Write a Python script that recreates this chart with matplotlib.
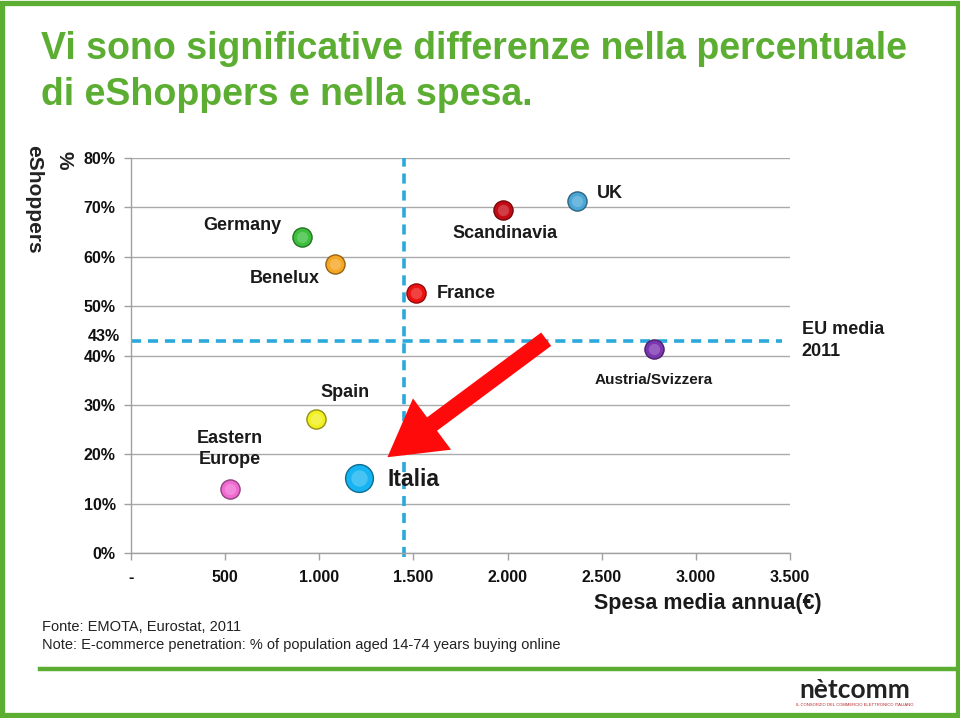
import matplotlib
matplotlib.use("Agg")
import matplotlib.pyplot as plt
from matplotlib.patches import Rectangle
from matplotlib.lines import Line2D
import numpy as np

# ---------------- data ----------------
regions = ["Eastern\nEurope", "Spain", "Italia", "Germany", "Benelux", "France",
           "Scandinavia", "UK", "Austria/Svizzera"]
spend = [527, 984, 1211, 908, 1085, 1514, 1977, 2367, 2777]          # Spesa media annua (EUR)
eshoppers = [12.9, 27.1, 15.2, 63.9, 58.5, 52.6, 69.5, 71.2, 41.3]   # % eShoppers
colors = ["#f06ad2", "#f2f020", "#16b4f2", "#3cbf3c", "#f5a623", "#ee1111",
          "#c40a14", "#4aa6d6", "#7a35b0"]
eu_media = 43          # % EU average 2011
spend_threshold = 1450  # vertical reference line
xticks = [0, 500, 1000, 1500, 2000, 2500, 3000, 3500]
xticklabels = ["-", "500", "1.000", "1.500", "2.000", "2.500", "3.000", "3.500"]
yticks = [0, 10, 20, 30, 40, 50, 60, 70, 80]
yticklabels = [f"{v}%" for v in yticks]
arrow_tail = (2205, 43.3)
arrow_tip = (1362, 19.4)

GREEN = "#5cae32"
BLUE_DASH = "#2ba9db"

plt.rcParams["font.family"] = ["Liberation Sans", "DejaVu Sans"]

fig = plt.figure(figsize=(9.6, 7.18), dpi=100)
fig.patch.set_facecolor("white")

# slide border & separator
fig.add_artist(Rectangle((0.0025, 0.0035), 0.995, 0.993, transform=fig.transFigure,
                         fill=False, edgecolor=GREEN, linewidth=3.8))
fig.add_artist(Line2D([0.042, 0.995], [0.068, 0.068], transform=fig.transFigure,
                      color=GREEN, linewidth=3.2))

# title
fig.text(0.043, 1 - 49 / 718, "Vi sono significative differenze nella percentuale",
         fontweight="bold", fontsize=27, color=GREEN, va="center", ha="left")
fig.text(0.043, 1 - 95 / 718, "di eShoppers e nella spesa.",
         fontweight="bold", fontsize=27, color=GREEN, va="center", ha="left")

# axes
ax = fig.add_axes([131 / 960, 1 - 553 / 718, (790 - 131) / 960, (553 - 158) / 718])
ax.set_xlim(0, 3500)
ax.set_ylim(0, 80)
for s in ["top", "right"]:
    ax.spines[s].set_visible(False)
for s in ["left", "bottom"]:
    ax.spines[s].set_color("#a0a0a0")
    ax.spines[s].set_linewidth(1.0)
ax.set_yticks(yticks)
ax.set_yticklabels(yticklabels)
ax.set_yticks([eu_media], minor=True)
ax.set_yticklabels([f"{eu_media}%"], minor=True)
ax.set_xticks(xticks)
ax.set_xticklabels(xticklabels)
ax.tick_params(axis="both", which="major", colors="#a0a0a0", length=5, width=1,
               labelcolor="#111111", labelsize=11.5)
ax.tick_params(axis="y", which="minor", length=0, labelsize=11.5, labelcolor="#111111", pad=8)
ax.tick_params(axis="y", which="major", pad=6)
ax.tick_params(axis="x", which="major", pad=7)
for lab in ax.get_xticklabels() + ax.get_yticklabels() + ax.get_yticklabels(minor=True):
    lab.set_fontweight("bold")
for lab in ax.get_yticklabels(minor=True):
    lab.set_verticalalignment("baseline")
ax.yaxis.grid(True, which="major", color="#aaaaaa", linewidth=1.0)
ax.set_axisbelow(True)

# reference dashed lines
ax.plot([0, 3460], [eu_media, eu_media], color=BLUE_DASH, linewidth=2.6,
        dashes=(2.8, 1.9), zorder=2, clip_on=False)
ax.axvline(spend_threshold, ymin=-0.01, ymax=1.0, color=BLUE_DASH, linewidth=2.6,
           dashes=(2.8, 1.9), zorder=2, clip_on=False)

# points
sizes = [190 if r != "Italia" else 400 for r in regions]
for x, y, c, s in zip(spend, eshoppers, colors, sizes):
    rgb = np.array(matplotlib.colors.to_rgb(c))
    ax.scatter([x], [y], s=s, color=c, edgecolor=tuple(rgb * 0.6), linewidth=1.0, zorder=5)
    ax.scatter([x], [y], s=s * 0.35, color=tuple(rgb + (1 - rgb) * 0.35), linewidth=0,
               zorder=6, alpha=0.6)

# labels
lab_style = dict(fontsize=13, fontweight="bold", color="#1a1a1a", zorder=7)
label_offsets = {
    "Eastern\nEurope": ((0, 40), "center", "center"),
    "Spain": ((29, 27), "center", "center"),
    "Italia": ((28, -2), "left", "center"),
    "Germany": ((-60, 12), "center", "center"),
    "Benelux": ((-51, -14), "center", "center"),
    "France": ((21, 0), "left", "center"),
    "Scandinavia": ((2, -24), "center", "center"),
    "UK": ((20, 8), "left", "center"),
    "Austria/Svizzera": ((0, -31), "center", "center"),
}
for r, x, y in zip(regions, spend, eshoppers):
    (dx, dy), ha, va = label_offsets[r]
    st = dict(lab_style)
    if r == "Italia":
        st["fontsize"] = 16.5
    if r == "Austria/Svizzera":
        st["fontsize"] = 11
    ax.annotate(r, (x, y), xytext=(dx * 0.72, dy * 0.72), textcoords="offset points",
                ha=ha, va=va, multialignment="center", linespacing=1.3, **st)

ax.text(1.018, eu_media, "EU media\n2011", transform=ax.get_yaxis_transform(),
        fontsize=13, fontweight="bold", color="#1a1a1a", ha="left", va="center",
        linespacing=1.4, clip_on=False)

# red arrow
ax.annotate("", xy=arrow_tip, xytext=arrow_tail,
            arrowprops=dict(arrowstyle="simple,head_length=4.0,head_width=4.6,tail_width=1.2",
                            mutation_scale=10, color="#ff0a0a", linewidth=0,
                            shrinkA=0, shrinkB=0), zorder=8)

# axis titles
fig.text(64 / 960, 1 - 151 / 718, "%", rotation=-90, fontsize=15, fontweight="bold",
         ha="center", va="top", color="#222222")
fig.text(34 / 960, 1 - 145 / 718, "eShoppers", rotation=-90, fontsize=15, fontweight="bold",
         ha="center", va="top", color="#222222")
fig.text(822 / 960, 1 - 604 / 718, "Spesa media annua(€)", fontsize=15.5, fontweight="bold",
         ha="right", va="center", color="#1a1a1a")

# notes
fig.text(42 / 960, 1 - 627 / 718, "Fonte: EMOTA, Eurostat, 2011", fontsize=10.5,
         ha="left", va="center", color="#222222")
fig.text(42 / 960, 1 - 645 / 718,
         "Note: E-commerce penetration: % of population aged 14-74 years buying online",
         fontsize=10.5, ha="left", va="center", color="#222222")

# logo
fig.text(855 / 960, 1 - 690 / 718, "nètcomm", fontsize=19, ha="center", va="center",
         color="#222222", fontweight="bold", family=["Lato", "Liberation Sans"])
fig.text(855 / 960, 1 - 705 / 718, "IL CONSORZIO DEL COMMERCIO ELETTRONICO ITALIANO",
         fontsize=3, ha="center", va="center", color="#b22222")

fig.savefig("out.png", dpi=100, facecolor="white")
